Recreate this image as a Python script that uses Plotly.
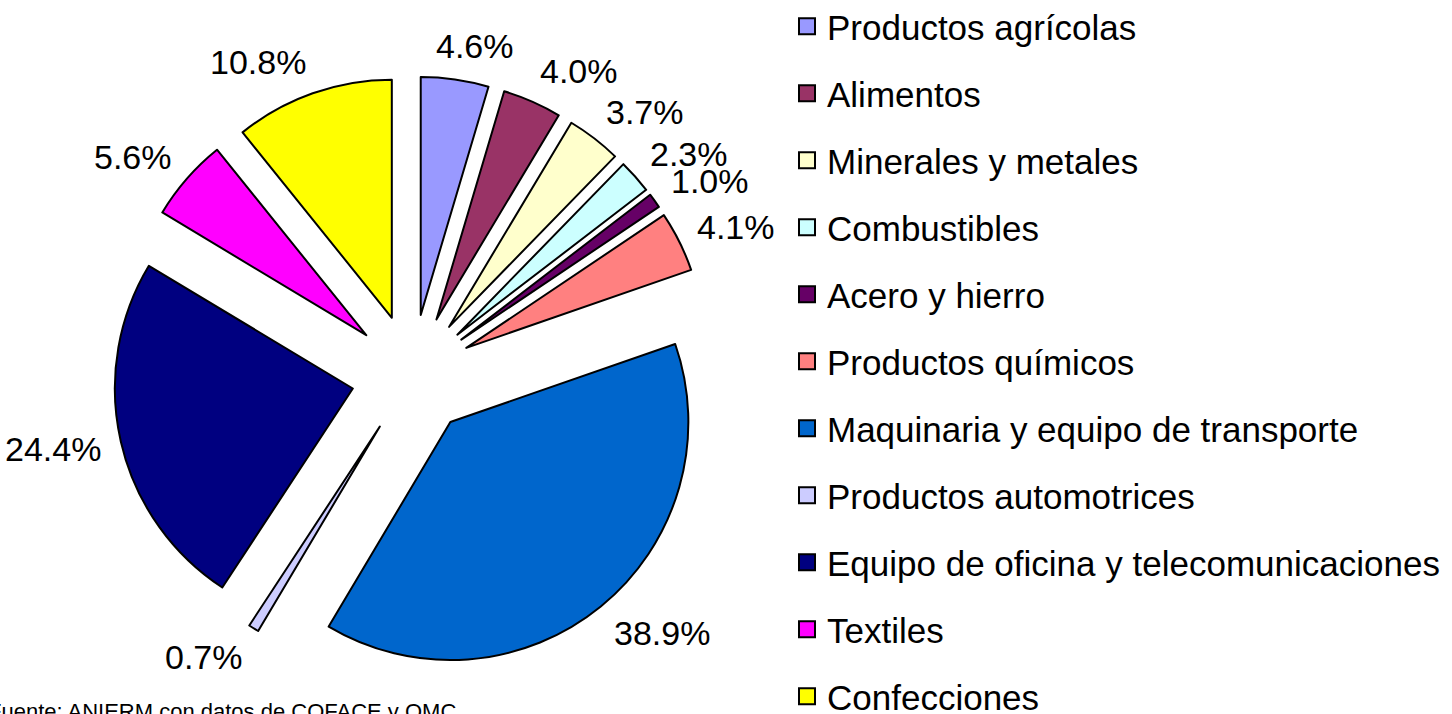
import math
import plotly.graph_objects as go

# data
categorias = [
    "Productos agrícolas", "Alimentos", "Minerales y metales", "Combustibles",
    "Acero y hierro", "Productos químicos", "Maquinaria y equipo de transporte",
    "Productos automotrices", "Equipo de oficina y telecomunicaciones",
    "Textiles", "Confecciones",
]
porcentajes = [4.6, 4.0, 3.7, 2.3, 1.0, 4.1, 38.9, 0.7, 24.4, 5.6, 10.8]
colores = [
    "#9999FF", "#993366", "#FFFFCC", "#CCFFFF", "#660066", "#FF8080",
    "#0066CC", "#CCCCFF", "#000080", "#FF00FF", "#FFFF00",
]
fuente = "Fuente: ANIERM con datos de COFACE y OMC"

W, H = 1452, 714
FONT = "Liberation Sans, Arial, sans-serif"
LABEL_SIZE = 34
PULL = 0.255

# pie placement (pixels): centre and radius of the un-pulled pie
CX, CY, R = 412, 375, 238

fig = go.Figure()

fig.add_trace(go.Pie(
    values=porcentajes,
    labels=categorias,
    textinfo="none",
    sort=False,
    direction="clockwise",
    rotation=0,
    pull=PULL,
    marker=dict(colors=colores, line=dict(color="black", width=2)),
    domain=dict(x=[0, 2 * CX / W],
                y=[1 - (CY + R * (1 + PULL)) / H, 1 - (CY - R * (1 + PULL)) / H]),
    showlegend=False,
    hoverinfo="label+value",
))

# percentage labels outside each slice, next to the bisector (no leader lines)
total = sum(porcentajes)
acum = 0
for v in porcentajes:
    ang = 2 * math.pi * (acum + v / 2) / total
    acum += v
    ux, uy = math.sin(ang), -math.cos(ang)
    txt = f"{v:.1f}%"
    # rough Arial width of the label, to hang it off the slice like Excel does
    tw = LABEL_SIZE * (0.556 * (len(txt) - 2) + 0.278 + 0.889)
    side = max(-1.0, min(1.0, 3 * ux))
    r0 = R * (1 + PULL) + 20
    px = CX + r0 * ux + side * tw / 2
    py = CY + r0 * uy + LABEL_SIZE * 0.4 * uy
    fig.add_annotation(
        text=txt, x=px / W, y=1 - py / H, xref="paper", yref="paper",
        xanchor="center", yanchor="middle", showarrow=False,
        font=dict(size=LABEL_SIZE, color="black", family=FONT),
    )

# legend entries, one group each so the spacing can be opened up
for cat, col in zip(categorias, colores):
    fig.add_trace(go.Scatter(
        x=[None], y=[None], mode="markers", name=cat, legendgroup=cat,
        marker=dict(symbol="square", size=16, color=col,
                    line=dict(color="black", width=2)),
    ))

fig.add_annotation(
    text=fuente, x=-14 / W, y=1 - 697 / H, xref="paper", yref="paper",
    xanchor="left", yanchor="top", showarrow=False,
    font=dict(size=22, color="black", family=FONT),
)

fig.update_layout(
    width=W, height=H,
    margin=dict(l=0, r=0, t=0, b=0, autoexpand=False),
    paper_bgcolor="white", plot_bgcolor="white",
    font=dict(family=FONT, color="black"),
    xaxis=dict(visible=False), yaxis=dict(visible=False),
    legend=dict(
        x=787 / W, y=1 + 3 / H, xanchor="left", yanchor="top",
        font=dict(size=35, color="black", family=FONT),
        traceorder="grouped", tracegroupgap=18.5, maxheight=1000,
        bgcolor="rgba(0,0,0,0)",
    ),
)

fig.write_html("out.html", config={"displayModeBar": False},
               post_script="document.body.style.margin = '0';")
